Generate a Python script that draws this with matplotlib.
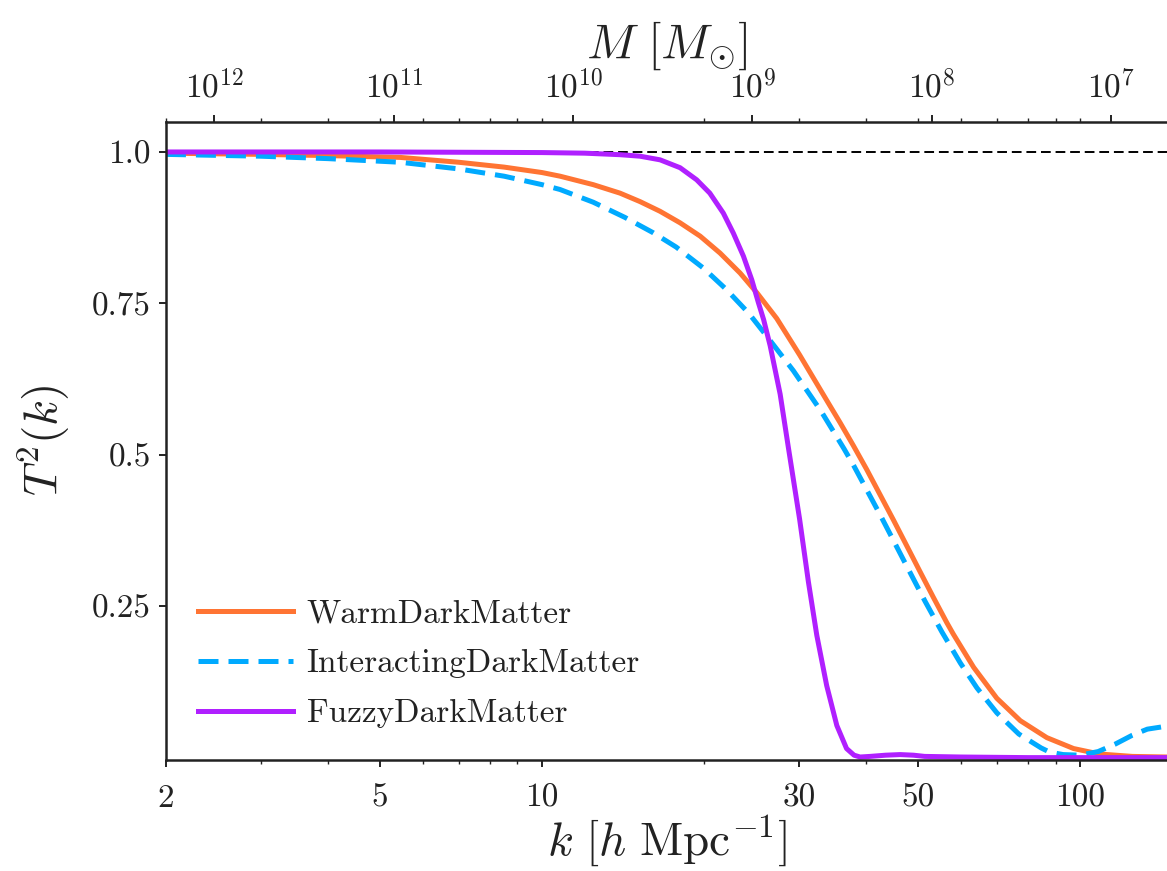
import numpy as np
import matplotlib
matplotlib.use("Agg")
import matplotlib.pyplot as plt
from matplotlib.ticker import FixedLocator, NullFormatter, LogLocator

plt.rcParams['font.family'] = 'serif'
plt.rcParams['font.serif'] = ['cmr10']
plt.rcParams['mathtext.fontset'] = 'cm'
plt.rcParams['axes.formatter.use_mathtext'] = True
plt.rcParams['axes.unicode_minus'] = False

# values
k_wdm = [2, 3, 4, 5.45, 7, 8.5, 10, 10.8, 12.45, 13.96, 15.21, 16.57, 18.05, 19.67, 21.42, 23.34,
         25.1, 27.3, 30.1, 33.8, 35.8, 37.9, 40.1, 45.0, 48.3, 50.4, 53.4, 56.5, 58.1, 63.4, 70.0,
         77.4, 86.7, 97.2, 108.5, 125, 145]
t_wdm = [0.998, 0.996, 0.994, 0.991, 0.983, 0.975, 0.966, 0.960, 0.946, 0.932, 0.918, 0.902, 0.883,
         0.861, 0.833, 0.800, 0.767, 0.725, 0.665, 0.590, 0.553, 0.515, 0.476, 0.392, 0.339, 0.307,
         0.264, 0.223, 0.204, 0.149, 0.098, 0.061, 0.033, 0.015, 0.006, 0.002, 0.001]

k_idm = [2, 3, 4, 5.45, 7, 8.5, 10, 10.8, 12.45, 14.25, 16.06, 17.75, 19.96, 22.0, 24.2, 26.2, 29.3,
         33.0, 36.4, 37.9, 42.6, 47.3, 51.5, 55.3, 59.9, 64.3, 70.0, 76.9, 84.6, 87.8, 93, 100, 108,
         116, 125, 133.3, 145]
t_idm = [0.996, 0.993, 0.989, 0.983, 0.972, 0.960, 0.946, 0.938, 0.917, 0.892, 0.867, 0.843, 0.808,
         0.773, 0.734, 0.695, 0.639, 0.572, 0.510, 0.483, 0.399, 0.321, 0.258, 0.208, 0.156, 0.115,
         0.074, 0.039, 0.016, 0.009, 0.005, 0.004, 0.010, 0.022, 0.037, 0.047, 0.052]

k_fdm = [2, 5, 10, 12, 13.96, 15.21, 16.57, 18.05, 19.38, 20.5, 21.72, 22.67, 23.67, 24.53, 25.24,
         25.81, 26.54, 27.7, 28.69, 30.1, 31.26, 32.4, 33.8, 35.3, 36.8, 38, 39.0, 40.7, 43.5, 46.3,
         49, 51.4, 60, 80, 145]
t_fdm = [1.0, 1.0, 0.999, 0.998, 0.9955, 0.993, 0.987, 0.974, 0.954, 0.932, 0.899, 0.866, 0.828,
         0.789, 0.751, 0.723, 0.680, 0.600, 0.512, 0.394, 0.290, 0.202, 0.119, 0.053, 0.015, 0.004,
         0.001, 0.002, 0.004, 0.005, 0.004, 0.002, 0.001, 0.0, 0.0]

x_ticks = [2, 5, 10, 30, 50, 100]
y_ticks = [1.0, 0.75, 0.5, 0.25]
y_ticklabels = ['1.0', '0.75', '0.5', '0.25']
m_ticks = [1e12, 1e11, 1e10, 1e9, 1e8, 1e7]
m_ticklabels = [r'$10^{12}$', r'$10^{11}$', r'$10^{10}$', r'$10^{9}$', r'$10^{8}$', r'$10^{7}$']

# mass scale M = C / k^3 (calibrated on the top axis)
C_mass = 1.49e13

txt = '#222222'
fig = plt.figure(figsize=(11.67, 8.71), dpi=100)
ax = fig.add_axes([0.1422, 0.1274, 0.8578, 0.7329])

ax.plot(k_wdm, t_wdm, color='#FF7433', lw=3.6, label='WarmDarkMatter')
ax.plot(k_idm, t_idm, color='#00AAFF', lw=3.6, ls=(0, (4, 2)), label='InteractingDarkMatter')
ax.plot(k_fdm, t_fdm, color='#B020FF', lw=3.6, label='FuzzyDarkMatter')
ax.axhline(1.0, color='k', lw=1.4, ls=(0, (5, 2.5)), zorder=1)

ax.set_xscale('log')
ax.set_xlim(2, 145)
ax.set_ylim(-0.004, 1.05)
ax.xaxis.set_major_locator(FixedLocator(x_ticks))
ax.set_xticklabels([str(v) for v in x_ticks])
ax.xaxis.set_minor_locator(LogLocator(subs=np.arange(2, 10)))
ax.xaxis.set_minor_formatter(NullFormatter())
ax.set_yticks(y_ticks)
ax.set_yticklabels(y_ticklabels)

for s in ['left', 'bottom']:
    ax.spines[s].set_linewidth(1.8)
    ax.spines[s].set_color(txt)
ax.spines['right'].set_visible(False)
ax.spines['top'].set_visible(False)
ax.tick_params(which='major', length=5, width=1.4, labelsize=24, colors=txt)
ax.tick_params(which='minor', length=3, width=1.0, colors=txt)
ax.tick_params(axis='x', which='major', pad=12)
ax.tick_params(axis='y', which='major', pad=6)

ax.set_xlabel(r'$k\ [h\ \mathrm{Mpc}^{-1}]$', fontsize=34, color=txt, labelpad=0)
ax.set_ylabel(r'$T^2(k)$', fontsize=34, color=txt, labelpad=14)

# top axis: same k scale, ticks placed at the k of each mass
ax2 = ax.twiny()
ax2.set_xscale('log')
ax2.set_xlim(ax.get_xlim())
ax2.xaxis.set_major_locator(FixedLocator([(C_mass / m) ** (1 / 3) for m in m_ticks]))
ax2.set_xticklabels(m_ticklabels)
ax2.xaxis.set_minor_locator(LogLocator(subs=np.arange(1, 10)))
ax2.xaxis.set_minor_formatter(NullFormatter())
for s in ['left', 'bottom', 'right']:
    ax2.spines[s].set_visible(False)
ax2.spines['top'].set_linewidth(1.8)
ax2.spines['top'].set_color(txt)
ax2.tick_params(which='major', length=5, width=1.4, labelsize=24, colors=txt, pad=8)
ax2.tick_params(which='minor', length=3, width=1.0, colors=txt)
ax2.set_xlabel(r'$M\ [M_{\odot}]$', fontsize=35, color=txt, labelpad=8)

leg = ax.legend(loc='lower left', frameon=False, fontsize=24, handlelength=2.85,
                labelspacing=0.62, handletextpad=0.42, borderaxespad=0.55,
                bbox_to_anchor=(0.0, 0.0))
for t in leg.get_texts():
    t.set_color(txt)

fig.savefig('out.png', dpi=100)
